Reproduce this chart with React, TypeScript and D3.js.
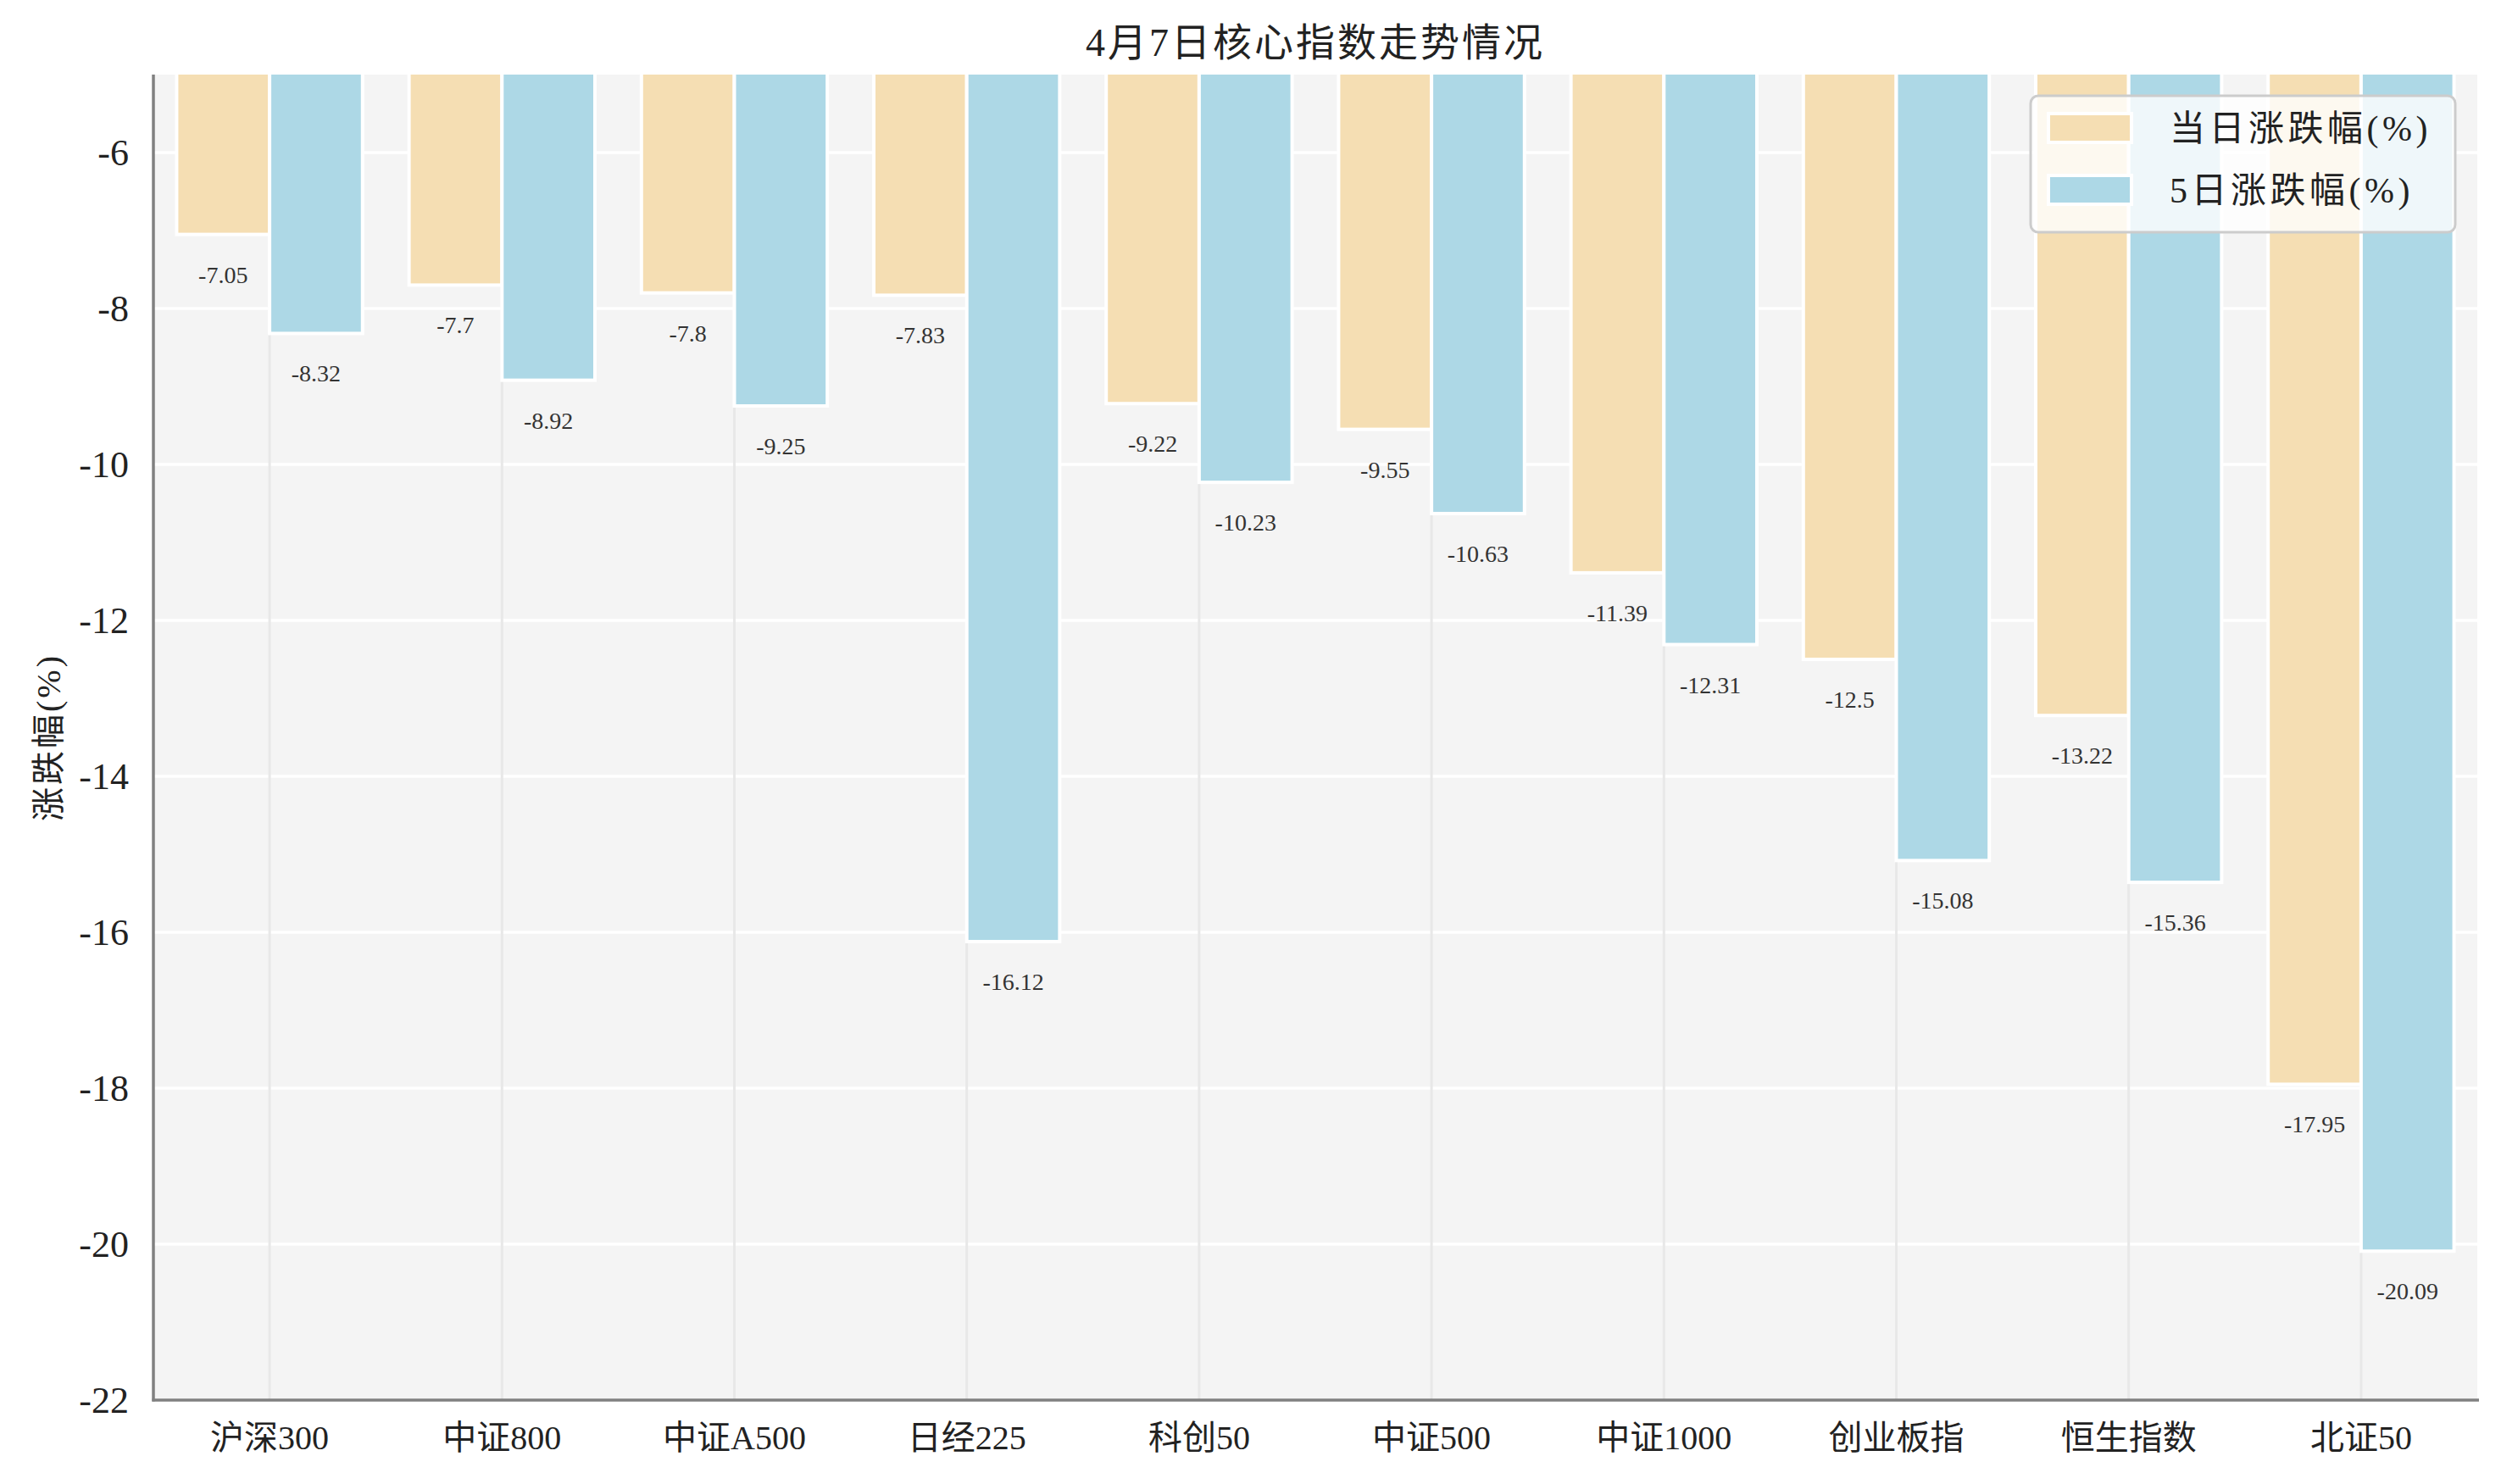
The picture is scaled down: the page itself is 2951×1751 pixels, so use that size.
import React, { useEffect } from 'react';
import * as d3 from 'd3';

const categories = ['沪深300', '中证800', '中证A500', '日经225', '科创50', '中证500', '中证1000', '创业板指', '恒生指数', '北证50'];
const dailyChange = [-7.05, -7.7, -7.8, -7.83, -9.22, -9.55, -11.39, -12.5, -13.22, -17.95];
const fiveDayChange = [-8.32, -8.92, -9.25, -16.12, -10.23, -10.63, -12.31, -15.08, -15.36, -20.09];
const seriesNames = ['当日涨跌幅(%)', '5日涨跌幅(%)'];
const seriesColors = ['#F5DEB3', '#ADD8E6'];
const yTicks = [-22, -20, -18, -16, -14, -12, -10, -8, -6];
const yDomain: [number, number] = [-22, -5];

const W = 2951;
const H = 1751;
const margin = { top: 88, right: 28, bottom: 99, left: 181 };
const FONT = "'Liberation Serif', 'Noto Sans CJK SC', serif";

function App(): React.ReactElement {
    useEffect(() => {
        document.body.style.margin = '0';
    }, []);

    const x0 = margin.left;
    const x1 = W - margin.right;
    const y0 = H - margin.bottom;
    const y1 = margin.top;

    const x = d3.scaleBand<string>()
        .domain(categories)
        .range([x0, x1])
        .paddingInner(0.2)
        .paddingOuter(0.1);

    const xSub = d3.scaleBand<number>()
        .domain([0, 1])
        .range([0, x.bandwidth()]);

    const y = d3.scaleLinear().domain(yDomain).range([y0, y1]);

    const series = [dailyChange, fiveDayChange];
    const center = (c: string) => (x(c) ?? 0) + x.bandwidth() / 2;

    const legendX = 2396;
    const legendY = 113;

    return (
        <svg width={W} height={H} style={{ display: 'block', background: '#fff' }} fontFamily={FONT}>
            <defs>
                <clipPath id="plotClip">
                    <rect x={x0} y={y1} width={x1 - x0} height={y0 - y1} />
                </clipPath>
            </defs>

            {/* plot background */}
            <rect x={x0} y={y1} width={x1 - x0} height={y0 - y1} fill="#f4f4f4" />

            {/* grid */}
            {yTicks.map(t => (
                <line key={`hg${t}`} x1={x0} x2={x1} y1={y(t)} y2={y(t)} stroke="#ffffff" strokeWidth={3.5} />
            ))}
            {categories.map(c => (
                <line key={`vg${c}`} x1={center(c)} x2={center(c)} y1={y1} y2={y0} stroke="#e8e8e8" strokeWidth={3} />
            ))}

            {/* bars */}
            <g clipPath="url(#plotClip)">
                {series.map((vals, si) =>
                    vals.map((v, i) => {
                        const bx = (x(categories[i]) ?? 0) + (xSub(si) ?? 0);
                        return (
                            <rect
                                key={`b${si}-${i}`}
                                x={bx}
                                y={y(0)}
                                width={xSub.bandwidth()}
                                height={y(v) - y(0)}
                                fill={seriesColors[si]}
                                stroke="#ffffff"
                                strokeWidth={4}
                            />
                        );
                    })
                )}
            </g>

            {/* value labels */}
            {series.map((vals, si) =>
                vals.map((v, i) => {
                    const cx = (x(categories[i]) ?? 0) + (xSub(si) ?? 0) + xSub.bandwidth() / 2;
                    return (
                        <text
                            key={`l${si}-${i}`}
                            x={cx}
                            y={y(v - 0.62)}
                            textAnchor="middle"
                            fontSize={28}
                            fill="#333"
                        >
                            {String(v)}
                        </text>
                    );
                })
            )}

            {/* spines */}
            <line x1={x0} x2={x0} y1={y1} y2={y0 + 1.5} stroke="#808080" strokeWidth={3.5} />
            <line x1={x0 - 1.5} x2={x1 + 2} y1={y0} y2={y0} stroke="#808080" strokeWidth={3.5} />

            {/* y ticks */}
            {yTicks.map(t => (
                <text key={`yt${t}`} x={x0 - 29} y={y(t)} dy="0.35em" textAnchor="end" fontSize={44} fill="#222" fontFamily="'Liberation Serif', serif">
                    {String(t)}
                </text>
            ))}

            {/* x ticks */}
            {categories.map(c => (
                <text key={`xt${c}`} x={center(c)} y={y0 + 58} textAnchor="middle" fontSize={40} fill="#222">
                    {c}
                </text>
            ))}

            {/* y label */}
            <text
                transform={`translate(57, ${(y0 + y1) / 2}) rotate(-90)`}
                textAnchor="middle"
                dy="0.35em"
                fontSize={40}
                letterSpacing={3}
                fill="#222"
            >
                涨跌幅(%)
            </text>

            {/* title */}
            <text x={(x0 + x1) / 2} y={66} textAnchor="middle" fontSize={46} fill="#222" letterSpacing={3}>
                4月7日核心指数走势情况
            </text>

            {/* legend */}
            <g>
                <rect x={legendX} y={legendY} width={501} height={161} rx={9} fill="#ffffff" fillOpacity={0.8} stroke="#cccccc" strokeWidth={3} />
                {seriesNames.map((name, si) => (
                    <g key={`lg${si}`}>
                        <rect
                            x={legendX + 21}
                            y={legendY + 21 + si * 73}
                            width={98}
                            height={34}
                            fill={seriesColors[si]}
                            stroke="#ffffff"
                            strokeWidth={4}
                        />
                        <text
                            x={legendX + 164}
                            y={legendY + 38 + si * 73}
                            dy="0.35em"
                            fontSize={42}
                            letterSpacing={4.5}
                            fill="#222"
                        >
                            {name}
                        </text>
                    </g>
                ))}
            </g>
        </svg>
    );
}

export default App;
